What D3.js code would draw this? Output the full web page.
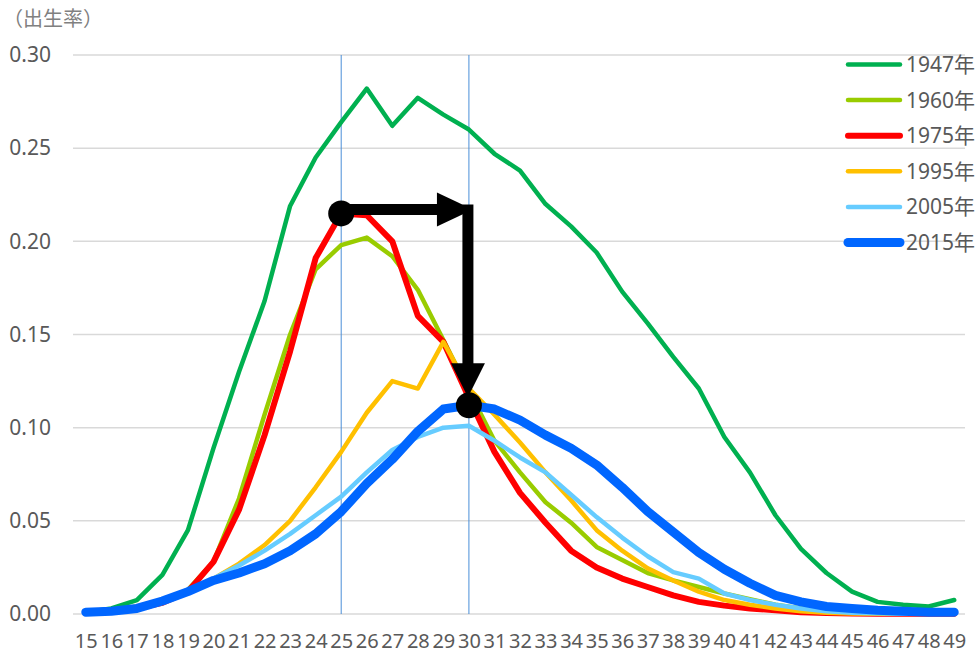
<!DOCTYPE html>
<html>
<head>
<meta charset="utf-8">
<script src="https://cdn.jsdelivr.net/npm/d3@7"></script>
<style>
  html, body { margin: 0; padding: 0; background: #fff; }
  svg { display: block; font-family: "Noto Sans", "Noto Sans CJK JP", sans-serif; }
</style>
</head>
<body>
<svg id="chart" width="978" height="654"></svg>
<script>
// Ages 15–49 (mother's age)
const ages = d3.range(15, 50);

// Age-specific fertility rates by year
const rate1947 = [0.001, 0.003, 0.0075, 0.021, 0.045, 0.089, 0.130, 0.168, 0.219, 0.245,
  0.264, 0.282, 0.262, 0.277, 0.268, 0.260, 0.247, 0.238, 0.220, 0.208,
  0.194, 0.173, 0.156, 0.138, 0.121, 0.095, 0.076, 0.053, 0.035, 0.022,
  0.012, 0.0065, 0.005, 0.004, 0.0075];
const rate1960 = [0.001, 0.002, 0.004, 0.007, 0.013, 0.028, 0.062, 0.107, 0.150, 0.185,
  0.198, 0.202, 0.192, 0.174, 0.147, 0.120, 0.093, 0.076, 0.060, 0.049,
  0.036, 0.029, 0.022, 0.018, 0.0145, 0.011, 0.008, 0.005, 0.003, 0.0015,
  0.0008, 0.0005, 0.0003, 0.0002, 0.0001];
const rate1975 = [0.001, 0.002, 0.003, 0.006, 0.012, 0.028, 0.056, 0.096, 0.141, 0.191,
  0.215, 0.214, 0.200, 0.160, 0.146, 0.116, 0.087, 0.065, 0.049, 0.034,
  0.025, 0.019, 0.0145, 0.010, 0.0065, 0.0045, 0.003, 0.002, 0.001, 0.0006,
  0.0003, 0.0002, 0.0001, 0.0001, 0.0001];
const rate1995 = [0.001, 0.002, 0.003, 0.006, 0.012, 0.019, 0.027, 0.037, 0.050, 0.068,
  0.087, 0.108, 0.125, 0.121, 0.146, 0.121, 0.107, 0.092, 0.076, 0.061,
  0.045, 0.034, 0.0245, 0.018, 0.012, 0.0075, 0.005, 0.003, 0.0015, 0.0007,
  0.0003, 0.0002, 0.0001, 0.0001, 0.0001];
const rate2005 = [0.001, 0.002, 0.003, 0.006, 0.012, 0.019, 0.026, 0.034, 0.043, 0.053,
  0.063, 0.076, 0.088, 0.095, 0.100, 0.101, 0.093, 0.084, 0.076, 0.064,
  0.052, 0.041, 0.031, 0.0225, 0.019, 0.011, 0.0075, 0.005, 0.003, 0.0015,
  0.0007, 0.0004, 0.0002, 0.0001, 0.0001];
const rate2015 = [0.001, 0.0015, 0.003, 0.007, 0.012, 0.018, 0.022, 0.027, 0.034, 0.043,
  0.055, 0.070, 0.083, 0.098, 0.110, 0.112, 0.110, 0.104, 0.096, 0.089,
  0.080, 0.068, 0.055, 0.044, 0.033, 0.024, 0.0165, 0.010, 0.0065, 0.004,
  0.003, 0.002, 0.0015, 0.001, 0.001];

const seriesNames = ["1947年", "1960年", "1975年", "1995年", "2005年", "2015年"];
const seriesValues = [rate1947, rate1960, rate1975, rate1995, rate2005, rate2015];
const seriesColors = ["#00B050", "#99CC00", "#FF0000", "#FFC000", "#66CCFF", "#0066FF"];
const seriesWidths = [4.5, 4.5, 6, 4.5, 4.5, 9];

const yTicks = [0, 0.05, 0.10, 0.15, 0.20, 0.25, 0.30];
const yTitle = "（出生率）";

// Ages marked with reference lines
const markAges = [25, 30];

const svg = d3.select("#chart");
const plotLeft = 73, plotRight = 967, plotTop = 55, plotBottom = 614;

const x = d3.scalePoint().domain(ages).range([plotLeft, plotRight]).padding(0.5);
const y = d3.scaleLinear().domain([0, 0.30]).range([plotBottom, plotTop]);

// Horizontal gridlines
svg.append("g")
  .selectAll("line")
  .data(yTicks)
  .join("line")
  .attr("x1", plotLeft).attr("x2", plotRight - 2)
  .attr("y1", d => y(d)).attr("y2", d => y(d))
  .attr("stroke", "#D9D9D9").attr("stroke-width", 1.5);

// Y axis labels
const yAxis = d3.axisLeft(y).tickValues(yTicks).tickFormat(d3.format(".2f")).tickSize(0).tickPadding(0);
const yg = svg.append("g").attr("transform", "translate(51,0)").call(yAxis);
yg.select(".domain").remove();
yg.selectAll("text")
  .attr("font-size", 21).attr("fill", "#595959")
  .attr("font-family", "'Noto Sans', sans-serif");

// X axis labels
const xAxis = d3.axisBottom(x).tickSize(0).tickPadding(0);
const xg = svg.append("g").attr("transform", "translate(0,634)").call(xAxis);
xg.select(".domain").remove();
xg.selectAll("text")
  .attr("font-size", 20).attr("fill", "#595959")
  .attr("font-family", "'Noto Sans', sans-serif")
  .attr("dy", "0.71em");

// Y axis title
svg.append("text")
  .attr("x", 3).attr("y", 26)
  .attr("font-size", 20).attr("fill", "#808080")
  .attr("font-family", "'Noto Sans CJK JP', sans-serif")
  .text(yTitle);

// Reference lines at ages 25 and 30
svg.append("g")
  .selectAll("line")
  .data(markAges)
  .join("line")
  .attr("x1", d => x(d)).attr("x2", d => x(d))
  .attr("y1", plotTop).attr("y2", plotBottom)
  .attr("stroke", "#4A8FD8").attr("stroke-width", 1);

// Series lines
const line = d3.line()
  .x((d, i) => x(ages[i]))
  .y(d => y(d));

svg.append("g")
  .selectAll("path")
  .data(seriesValues)
  .join("path")
  .attr("d", d => line(d))
  .attr("fill", "none")
  .attr("stroke", (d, i) => seriesColors[i])
  .attr("stroke-width", (d, i) => seriesWidths[i])
  .attr("stroke-linejoin", "round")
  .attr("stroke-linecap", "round");

// Legend
const legend = svg.append("g");
seriesNames.forEach((name, i) => {
  const cy = 64.5 + i * 35.6;
  legend.append("line")
    .attr("x1", 848).attr("x2", 900)
    .attr("y1", cy).attr("y2", cy)
    .attr("stroke", seriesColors[i])
    .attr("stroke-width", seriesWidths[i])
    .attr("stroke-linecap", "round");
  legend.append("text")
    .attr("x", 906).attr("y", cy + 7.5)
    .attr("font-size", 21).attr("fill", "#595959")
    .attr("font-family", "'Noto Sans', 'Noto Sans CJK JP', sans-serif")
    .text(name);
});

// Peak shift annotation: 1975 peak at 25 → 2015 peak at 30
const iA = ages.indexOf(25), iB = ages.indexOf(30);
const ax = x(25), ay = y(rate1975[iA]);
const bx = x(30), by = y(rate2015[iB]);
const ann = svg.append("g").attr("fill", "#000");
const shaftY = ay - 4;

ann.append("line")
  .attr("x1", ax).attr("x2", bx - 20)
  .attr("y1", shaftY).attr("y2", shaftY)
  .attr("stroke", "#000").attr("stroke-width", 11);
ann.append("path")
  .attr("d", `M${bx - 32},${shaftY - 17} L${bx + 4},${shaftY} L${bx - 32},${shaftY + 17} Z`);

ann.append("line")
  .attr("x1", bx - 1).attr("x2", bx - 1)
  .attr("y1", shaftY - 5).attr("y2", by - 30)
  .attr("stroke", "#000").attr("stroke-width", 11);
ann.append("path")
  .attr("d", `M${bx - 18},${by - 42} L${bx - 1},${by - 8} L${bx + 16},${by - 42} Z`);

ann.append("circle").attr("cx", ax).attr("cy", ay).attr("r", 13);
ann.append("circle").attr("cx", bx).attr("cy", by).attr("r", 13);
</script>
</body>
</html>
